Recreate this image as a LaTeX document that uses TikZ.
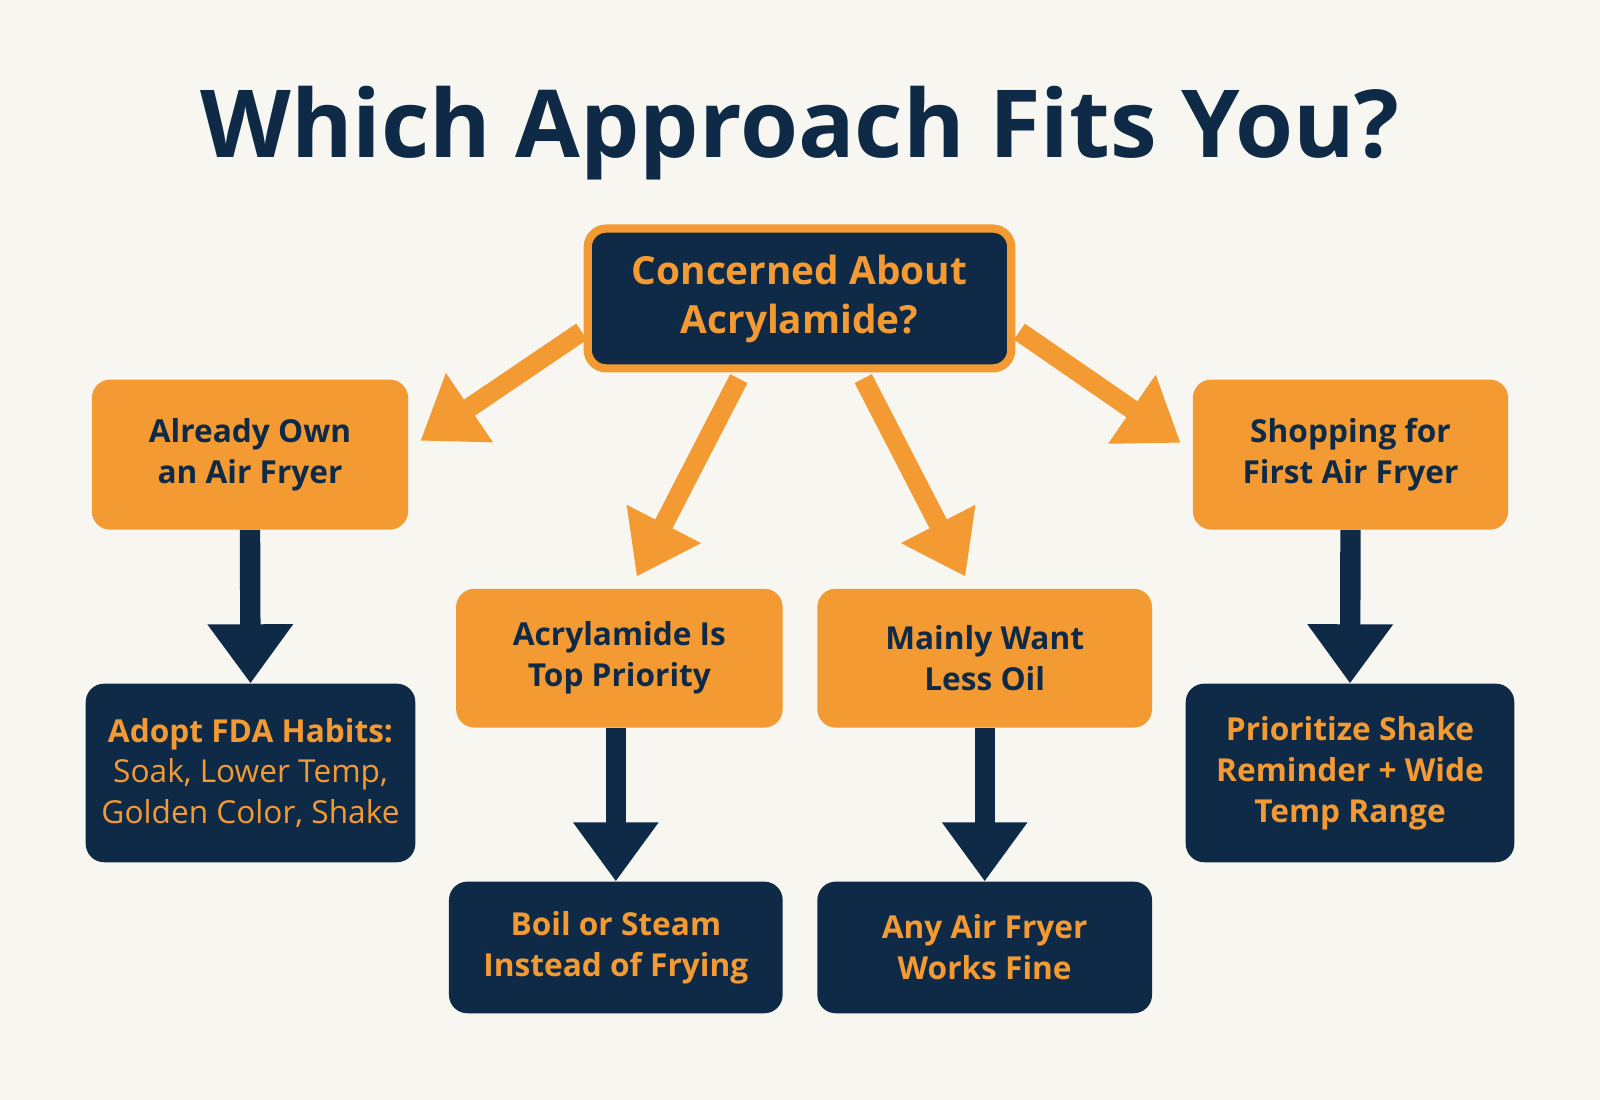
\documentclass[tikz,border=0pt]{standalone}
\usepackage{fontspec}
\setmainfont{Open Sans}
\usetikzlibrary{arrows.meta}
\definecolor{navy}{HTML}{0F2A47}
\definecolor{org}{HTML}{F39A32}
\definecolor{bg}{HTML}{F7F6F1}
\begin{document}
\begin{tikzpicture}[x=1pt,y=-1pt,
 box/.style={rounded corners=18pt,align=center,inner sep=0pt,font=\fontsize{31}{40}\selectfont\bfseries},
 obox/.style={box,fill=org,text=navy},
 nbox/.style={box,fill=navy,text=org},
 oarr/.style={draw=org,line width=19pt,-{Triangle[length=58pt,width=78pt]}},
 narr/.style={draw=navy,line width=20pt,-{Triangle[length=58pt,width=80pt]}}]
\fill[bg] (0,0) rectangle (1568,1078);
\useasboundingbox (0,0) rectangle (1568,1078);
\node[font=\fontsize{92}{100}\selectfont\bfseries,text=navy] (title) at (784,130) {Which Approach Fits You?};
\node[nbox,draw=org,line width=8pt,minimum width=415pt,minimum height=137pt,font=\fontsize{38}{48}\selectfont\bfseries] (top) at (783.5,292.5) {Concerned About\\Acrylamide?};
\node[obox,minimum width=310pt,minimum height=147pt] (l) at (245,445.5) {Already Own\\an Air Fryer};
\node[obox,minimum width=309pt,minimum height=147pt] (r) at (1323.5,445.5) {Shopping for\\First Air Fryer};
\node[obox,minimum width=320pt,minimum height=136pt] (ml) at (607,645) {Acrylamide Is\\Top Priority};
\node[obox,minimum width=328pt,minimum height=136pt] (mr) at (965,645) {Mainly Want\\Less Oil};
\node[nbox,minimum width=323pt,minimum height=175pt] (bl) at (245.5,757.5) {Adopt FDA Habits:\\\mdseries Soak, Lower Temp,\\\mdseries Golden Color, Shake};
\node[nbox,minimum width=322pt,minimum height=175pt] (br) at (1323,757.5) {Prioritize Shake\\Reminder + Wide\\Temp Range};
\node[nbox,minimum width=327pt,minimum height=129pt] (bml) at (603.5,928.5) {Boil or Steam\\Instead of Frying};
\node[nbox,minimum width=328pt,minimum height=129pt] (bmr) at (965,928.5) {Any Air Fryer\\Works Fine};
\coordinate (t1) at (412,432);
\coordinate (t2) at (624,565);
\coordinate (t3) at (946,565);
\coordinate (t4) at (1157,434);
\draw[oarr] (570,325) -- (t1);
\draw[oarr] (724,371) -- (t2);
\draw[oarr] (846,371) -- (t3);
\draw[oarr] (999,325) -- (t4);
\draw[narr] (l.south) -- (bl.north);
\draw[narr] (r.south) -- (br.north);
\draw[narr] (ml.south -| bml.north) -- (bml.north);
\draw[narr] (mr.south) -- (bmr.north);
\end{tikzpicture}
\end{document}
